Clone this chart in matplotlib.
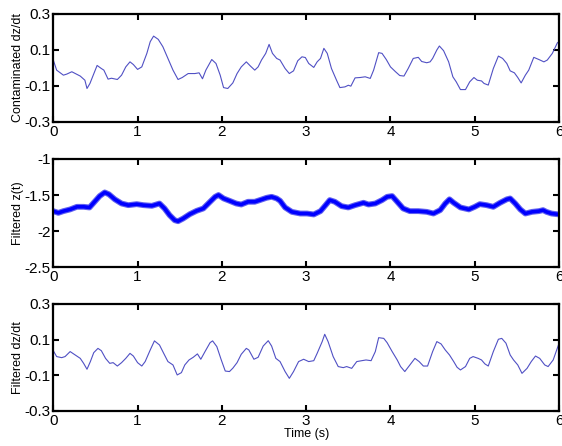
import numpy as np
import matplotlib
matplotlib.use("Agg")
import matplotlib.pyplot as plt

plt.rcParams['font.family'] = ['Liberation Sans', 'DejaVu Sans']

# --- data ---
t_top = [0.00, 0.04, 0.12, 0.16, 0.22, 0.32, 0.375, 0.40, 0.435, 0.49, 0.52, 0.57, 0.60, 0.65,
         0.69, 0.76, 0.81, 0.86, 0.91, 0.95, 1.00, 1.05, 1.11, 1.15, 1.19, 1.245, 1.30, 1.36,
         1.42, 1.48, 1.53, 1.60, 1.68, 1.73, 1.77, 1.81, 1.88, 1.93, 1.98, 2.02, 2.07, 2.13,
         2.18, 2.23, 2.29, 2.34, 2.39, 2.43, 2.47, 2.52, 2.56, 2.60, 2.65, 2.69, 2.75, 2.80,
         2.85, 2.90, 2.95, 2.99, 3.03, 3.09, 3.13, 3.17, 3.21, 3.25, 3.30, 3.36, 3.40, 3.46,
         3.50, 3.53, 3.58, 3.64, 3.70, 3.76, 3.80, 3.86, 3.90, 3.95, 4.00, 4.06, 4.11, 4.16,
         4.21, 4.27, 4.33, 4.37, 4.43, 4.47, 4.50, 4.55, 4.58, 4.63, 4.69, 4.74, 4.78, 4.83,
         4.89, 4.94, 4.99, 5.03, 5.08, 5.11, 5.16, 5.22, 5.28, 5.33, 5.38, 5.42, 5.47, 5.51,
         5.55, 5.60, 5.64, 5.70, 5.76, 5.82, 5.86, 5.92, 5.98, 6.00]
dzdt_contam = [0.044, -0.012, -0.040, -0.034, -0.021, -0.045, -0.068, -0.114, -0.086, -0.021,
               0.014, -0.003, -0.012, -0.062, -0.057, -0.064, -0.040, 0.006, 0.034, 0.019,
               -0.008, 0.006, 0.081, 0.146, 0.177, 0.159, 0.118, 0.053, -0.012, -0.064,
               -0.053, -0.031, -0.031, -0.027, -0.060, -0.012, 0.047, 0.025, -0.040, -0.109,
               -0.114, -0.083, -0.031, 0.006, 0.034, 0.010, -0.012, 0.006, 0.044, 0.081,
               0.131, 0.081, 0.053, 0.044, -0.003, -0.031, -0.016, 0.040, 0.062, 0.058,
               0.025, 0.003, 0.034, 0.053, 0.109, 0.081, -0.003, -0.068, -0.109, -0.105,
               -0.096, -0.101, -0.055, -0.053, -0.049, -0.058, -0.012, 0.085, 0.081, 0.047,
               0.006, -0.021, -0.042, -0.045, -0.003, 0.053, 0.059, 0.036, 0.029, 0.034,
               0.053, 0.100, 0.122, 0.096, 0.034, -0.049, -0.077, -0.120, -0.120, -0.077,
               -0.053, -0.068, -0.072, -0.086, -0.095, -0.003, 0.066, 0.053, 0.025, -0.016,
               -0.027, -0.053, -0.083, -0.040, -0.012, 0.059, 0.047, 0.034, 0.044, 0.081,
               0.140, 0.146]

t_mid = [0.00, 0.06, 0.12, 0.20, 0.28, 0.36, 0.43, 0.49, 0.55, 0.61, 0.66, 0.73, 0.81, 0.89,
         0.99, 1.07, 1.17, 1.26, 1.32, 1.38, 1.44, 1.48, 1.54, 1.62, 1.70, 1.78, 1.86, 1.92,
         1.96, 2.02, 2.09, 2.17, 2.23, 2.31, 2.39, 2.45, 2.53, 2.59, 2.65, 2.69, 2.75, 2.83,
         2.93, 3.01, 3.09, 3.17, 3.23, 3.28, 3.34, 3.42, 3.50, 3.58, 3.68, 3.74, 3.82, 3.90,
         3.96, 4.02, 4.08, 4.15, 4.23, 4.33, 4.43, 4.51, 4.59, 4.65, 4.70, 4.75, 4.83, 4.93,
         5.00, 5.06, 5.14, 5.22, 5.30, 5.38, 5.42, 5.48, 5.54, 5.60, 5.68, 5.76, 5.81, 5.85,
         5.91, 6.00]
z_filt = [-1.724, -1.748, -1.724, -1.700, -1.664, -1.664, -1.673, -1.594, -1.515, -1.464,
          -1.490, -1.560, -1.618, -1.641, -1.627, -1.641, -1.650, -1.618, -1.687, -1.780,
          -1.850, -1.864, -1.827, -1.766, -1.720, -1.687, -1.594, -1.525, -1.500, -1.548,
          -1.580, -1.618, -1.632, -1.594, -1.594, -1.571, -1.539, -1.525, -1.548, -1.580,
          -1.673, -1.734, -1.757, -1.757, -1.770, -1.724, -1.641, -1.571, -1.594, -1.655,
          -1.673, -1.641, -1.608, -1.632, -1.618, -1.571, -1.525, -1.515, -1.594, -1.687,
          -1.724, -1.724, -1.734, -1.757, -1.710, -1.618, -1.560, -1.608, -1.673, -1.700,
          -1.664, -1.627, -1.641, -1.664, -1.608, -1.560, -1.548, -1.618, -1.700, -1.757,
          -1.734, -1.724, -1.710, -1.734, -1.757, -1.770]

t_bot = [0.00, 0.04, 0.10, 0.14, 0.20, 0.26, 0.32, 0.36, 0.40, 0.44, 0.48, 0.53, 0.57, 0.62,
         0.67, 0.71, 0.76, 0.81, 0.86, 0.91, 0.95, 1.00, 1.05, 1.09, 1.15, 1.20, 1.26, 1.31,
         1.36, 1.42, 1.47, 1.52, 1.56, 1.61, 1.66, 1.71, 1.75, 1.80, 1.86, 1.89, 1.94, 1.99,
         2.04, 2.09, 2.13, 2.18, 2.23, 2.29, 2.32, 2.38, 2.43, 2.49, 2.55, 2.59, 2.64, 2.69,
         2.75, 2.80, 2.85, 2.91, 2.97, 3.03, 3.09, 3.13, 3.19, 3.22, 3.26, 3.32, 3.38, 3.44,
         3.48, 3.54, 3.60, 3.66, 3.71, 3.77, 3.82, 3.86, 3.92, 3.96, 4.02, 4.08, 4.12, 4.17,
         4.23, 4.29, 4.34, 4.39, 4.44, 4.50, 4.55, 4.60, 4.65, 4.70, 4.75, 4.79, 4.83, 4.89,
         4.94, 4.98, 5.04, 5.08, 5.12, 5.16, 5.22, 5.28, 5.32, 5.37, 5.42, 5.46, 5.51, 5.56,
         5.62, 5.67, 5.72, 5.77, 5.83, 5.87, 5.93, 6.00]
dzdt_filt = [0.038, 0.005, -0.001, 0.005, 0.033, 0.014, -0.005, -0.033, -0.066, -0.023,
             0.027, 0.051, 0.038, -0.005, -0.033, -0.029, -0.048, -0.029, -0.005, 0.023,
             0.008, -0.029, -0.048, -0.023, 0.042, 0.093, 0.070, 0.023, -0.023, -0.042,
             -0.098, -0.085, -0.042, -0.014, 0.001, 0.020, -0.010, 0.033, 0.083, 0.093,
             0.061, -0.010, -0.076, -0.079, -0.060, -0.029, 0.018, 0.051, 0.042, -0.010,
             0.001, 0.064, 0.094, 0.064, -0.005, -0.023, -0.079, -0.117, -0.079, -0.023,
             -0.010, -0.023, -0.018, 0.023, 0.089, 0.130, 0.089, 0.005, -0.051, -0.057,
             -0.051, -0.061, -0.023, -0.018, -0.014, -0.018, 0.033, 0.111, 0.107, 0.083,
             0.033, -0.014, -0.051, -0.079, -0.042, -0.005, -0.023, -0.048, -0.048, 0.033,
             0.089, 0.076, 0.042, 0.014, -0.023, -0.055, -0.070, -0.051, -0.005, 0.005,
             -0.005, -0.014, -0.036, -0.048, 0.033, 0.102, 0.107, 0.080, 0.014, -0.014,
             -0.042, -0.089, -0.061, -0.023, 0.008, -0.005, -0.042, -0.051, -0.014, 0.080]

x_ticks = [0, 1, 2, 3, 4, 5, 6]
dz_ticks = [-0.3, -0.1, 0.1, 0.3]
dz_ticklabels = ['-0.3', '-0.1', '0.1', '0.3']
z_ticks = [-2.5, -2, -1.5, -1]
z_ticklabels = ['-2.5', '-2', '-1.5', '-1']

# --- plotting ---
fig = plt.figure(figsize=(5.62, 4.46), dpi=100)
ax1 = fig.add_axes([0.0948, 0.7265, 0.900, 0.2422])
ax2 = fig.add_axes([0.0948, 0.4013, 0.900, 0.2422])
ax3 = fig.add_axes([0.0948, 0.0785, 0.900, 0.2400])

ax1.plot(t_top, dzdt_contam, color='#5050c4', linewidth=0.8)
ax2.plot(t_mid, z_filt, color='#6060f0', linewidth=4.2, solid_joinstyle='round')
ax2.plot(t_mid, z_filt, color='#0000ff', linewidth=2.6, solid_joinstyle='round')
ax3.plot(t_bot, dzdt_filt, color='#5050c4', linewidth=0.8)

for ax in (ax1, ax2, ax3):
    ax.set_xlim(0, 6)
    ax.set_xticks(x_ticks)
    ax.set_xticklabels([str(v) for v in x_ticks])
    ax.tick_params(direction='in', top=True, right=True, length=4, width=1.5,
                   labelsize=11, pad=2)
    for s in ax.spines.values():
        s.set_linewidth(1.6)

for ax in (ax1, ax3):
    ax.set_ylim(-0.3, 0.3)
    ax.set_yticks(dz_ticks)
    ax.set_yticklabels(dz_ticklabels)

ax2.set_ylim(-2.5, -1)
ax2.set_yticks(z_ticks)
ax2.set_yticklabels(z_ticklabels)

ax1.set_ylabel('Contaminated dz/dt', fontsize=9)
ax2.set_ylabel('Filtered z(t)', fontsize=9)
ax3.set_ylabel('Filtered dz/dt', fontsize=9)
for ax in (ax1, ax2, ax3):
    ax.yaxis.set_label_coords(-0.058, 0.5)
ax3.set_xlabel('Time (s)', fontsize=9, labelpad=0)

fig.savefig('out.png', dpi=100)
